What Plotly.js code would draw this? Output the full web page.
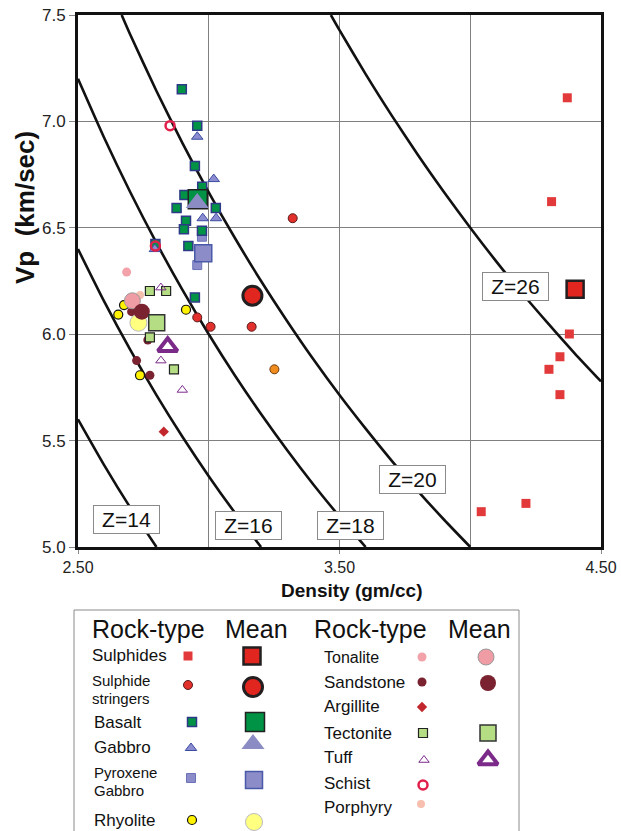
<!DOCTYPE html>
<html>
<head>
<meta charset="utf-8">
<script src="https://cdn.plot.ly/plotly-3.0.1.min.js"></script>
<style>html,body{margin:0;padding:0;background:#fff;}#chart{width:621px;height:831px;}</style>
</head>
<body>
<div id="chart"></div>
<script>
// ---------------- DATA (density gm/cc, Vp km/sec) ----------------
const sulphidesRho = [4.371, 4.311, 4.379, 4.343, 4.301, 4.343, 4.213, 4.042];
const sulphidesVp  = [7.111, 6.623, 6.001, 5.894, 5.835, 5.716, 5.205, 5.166];
const stringersRho = [3.321, 2.956, 3.007, 3.164];
const stringersVp  = [6.545, 6.079, 6.035, 6.035];
const basaltRho = [2.897, 2.956, 2.947, 2.975, 2.907, 2.877, 3.027, 2.913, 2.905, 2.974, 2.796, 2.922, 2.947];
const basaltVp  = [7.151, 6.980, 6.790, 6.693, 6.654, 6.593, 6.593, 6.533, 6.493, 6.486, 6.424, 6.414, 6.173];
const gabbroRho = [2.956, 3.019, 2.977, 3.028, 2.794];
const gabbroVp  = [6.928, 6.729, 6.545, 6.545, 6.400];
const pyroxeneRho = [2.974, 2.956];
const pyroxeneVp  = [6.458, 6.325];
const rhyoliteRho = [2.676, 2.654, 2.913, 2.737];
const rhyoliteVp  = [6.137, 6.092, 6.115, 5.807];
const tonaliteRho = [2.686];
const tonaliteVp  = [6.292];
const sandstoneRho = [2.705, 2.767, 2.724, 2.775];
const sandstoneVp  = [6.106, 5.973, 5.876, 5.807];
const argilliteRho = [2.828];
const argilliteVp  = [5.542];
const tectoniteRho = [2.775, 2.837, 2.775, 2.867];
const tectoniteVp  = [6.203, 6.203, 5.985, 5.835];
const tuffRho = [2.817, 2.817, 2.899];
const tuffVp  = [6.219, 5.876, 5.738];
const schistRho = [2.852, 2.796];
const schistVp  = [6.980, 6.414];
const porphyryRho = [2.737];
const porphyryVp  = [6.184];
const otherRho = [3.251];
const otherVp  = [5.835];

// Means
const meanTypes = ['Sulphides', 'Sulphide stringers', 'Basalt', 'Gabbro', 'Pyroxene Gabbro', 'Rhyolite', 'Tonalite', 'Sandstone', 'Tectonite', 'Tuff'];
const meanRho = [4.401, 3.167, 2.958, 2.956, 2.979, 2.731, 2.708, 2.744, 2.801, 2.843];
const meanVp  = [6.211, 6.181, 6.634, 6.617, 6.380, 6.054, 6.157, 6.106, 6.054, 5.941];

// Iso-impedance curves (Z = density x Vp)
const z14Rho = [2.5, 2.6, 2.7, 2.8];
const z14Vp  = [5.600, 5.385, 5.185, 5.000];
const z16Rho = [2.5, 2.6, 2.7, 2.8, 2.9, 3.0, 3.1, 3.2];
const z16Vp  = [6.400, 6.154, 5.926, 5.714, 5.517, 5.333, 5.161, 5.000];
const z18Rho = [2.5, 2.6, 2.7, 2.8, 2.9, 3.0, 3.1, 3.2, 3.3, 3.4, 3.5, 3.6];
const z18Vp  = [7.200, 6.923, 6.667, 6.429, 6.207, 6.000, 5.806, 5.625, 5.455, 5.294, 5.143, 5.000];
const z20Rho = [2.667, 2.7, 2.8, 2.9, 3.0, 3.1, 3.2, 3.3, 3.4, 3.5, 3.6, 3.7, 3.8, 3.9, 4.0];
const z20Vp  = [7.500, 7.407, 7.143, 6.897, 6.667, 6.452, 6.250, 6.061, 5.882, 5.714, 5.556, 5.405, 5.263, 5.128, 5.000];
const z26Rho = [3.467, 3.5, 3.6, 3.7, 3.8, 3.9, 4.0, 4.1, 4.2, 4.3, 4.4, 4.5];
const z26Vp  = [7.500, 7.429, 7.222, 7.027, 6.842, 6.667, 6.500, 6.341, 6.190, 6.047, 5.909, 5.778];
const zLabels = ['Z=14', 'Z=16', 'Z=18', 'Z=20', 'Z=26'];
const zLabelRho = [2.685, 3.152, 3.542, 3.781, 4.173];
const zLabelVp  = [5.127, 5.099, 5.099, 5.315, 6.224];

const xTickVals = [2.5, 3.5, 4.5];
const xTickText = ['2.50', '3.50', '4.50'];

// ---------------- STYLES ----------------
const FONT = 'Liberation Sans, Arial, Helvetica, sans-serif';
const st = {
  'Sulphides':          {small:{symbol:'square', size:9, color:'#E2393A', line:{width:0}},
                         mean:{symbol:'square', size:17, color:'#E0261F', line:{color:'#231F20', width:2.5}}},
  'Sulphide stringers': {small:{symbol:'circle', size:9, color:'#E2312D', line:{color:'#5A1A1A', width:1}},
                         mean:{symbol:'circle', size:19, color:'#E0261F', line:{color:'#231F20', width:3}}},
  'Basalt':             {small:{symbol:'square', size:9, color:'#009245', line:{color:'#2E3A87', width:1.5}},
                         mean:{symbol:'square', size:19, color:'#009245', line:{color:'#222222', width:1.5}}},
  'Gabbro':             {small:{symbol:'triangle-up', size:10, color:'#8C8CD0', line:{color:'#3A4BA0', width:1}},
                         mean:{symbol:'triangle-up', size:20, color:'#8C8CC4', line:{color:'#8C8CC4', width:0}}},
  'Pyroxene Gabbro':    {small:{symbol:'square', size:9, color:'#8C8CCB', line:{color:'#6A72B8', width:1}},
                         mean:{symbol:'square', size:17, color:'#8C8CC8', line:{color:'#4A5AA8', width:1.5}}},
  'Rhyolite':           {small:{symbol:'circle', size:9, color:'#FFF200', line:{color:'#111111', width:1.2}},
                         mean:{symbol:'circle', size:17, color:'#FFFF80', line:{color:'#BBBBBB', width:1}}},
  'Tonalite':           {small:{symbol:'circle', size:9, color:'#F2A2A8', line:{width:0}},
                         mean:{symbol:'circle', size:16, color:'#F09CA4', line:{color:'#999999', width:1}}},
  'Sandstone':          {small:{symbol:'circle', size:9, color:'#7A2230', line:{width:0}},
                         mean:{symbol:'circle', size:16, color:'#7A2230', line:{width:0}}},
  'Argillite':          {small:{symbol:'diamond', size:8, color:'#C1272D', line:{width:0}}},
  'Tectonite':          {small:{symbol:'square', size:9, color:'#B5DE84', line:{color:'#222222', width:1.2}},
                         mean:{symbol:'square', size:16, color:'#B5DE84', line:{color:'#333333', width:1.5}}},
  'Tuff':               {small:{symbol:'triangle-up-open', size:9, color:'#7B2A8A', line:{color:'#7B2A8A', width:1}},
                         mean:{symbol:'triangle-up-open', size:17, color:'#7B2A8A', line:{color:'#7B2A8A', width:4}}},
  'Schist':             {small:{symbol:'circle-open', size:9, color:'#E0204A', line:{color:'#E0204A', width:2.5}}},
  'Porphyry':           {small:{symbol:'circle', size:8, color:'#F6BFAE', line:{width:0}}},
  'Other':              {small:{symbol:'circle', size:9, color:'#F08C1E', line:{color:'#6A3A10', width:1}}}
};

const series = [
  ['Sulphides', sulphidesRho, sulphidesVp],
  ['Sulphide stringers', stringersRho, stringersVp],
  ['Tonalite', tonaliteRho, tonaliteVp],
  ['Porphyry', porphyryRho, porphyryVp],
  ['Rhyolite', rhyoliteRho, rhyoliteVp],
  ['Sandstone', sandstoneRho, sandstoneVp],
  ['Argillite', argilliteRho, argilliteVp],
  ['Tectonite', tectoniteRho, tectoniteVp],
  ['Tuff', tuffRho, tuffVp],
  ['Pyroxene Gabbro', pyroxeneRho, pyroxeneVp],
  ['Basalt', basaltRho, basaltVp],
  ['Gabbro', gabbroRho, gabbroVp],
  ['Schist', schistRho, schistVp],
  ['Other', otherRho, otherVp]
];

const traces = [];
const curveLine = {color:'#111111', width:2.6, shape:'spline', smoothing:0.6};
[[z14Rho,z14Vp],[z16Rho,z16Vp],[z18Rho,z18Vp],[z20Rho,z20Vp],[z26Rho,z26Vp]].forEach(c => {
  traces.push({type:'scatter', mode:'lines', x:c[0], y:c[1], line:curveLine, hoverinfo:'skip', showlegend:false, cliponaxis:true});
});
series.forEach(s => {
  traces.push({type:'scatter', mode:'markers', name:s[0], x:s[1], y:s[2], marker:st[s[0]].small, showlegend:false, cliponaxis:false});
});
meanTypes.forEach((t, i) => {
  traces.push({type:'scatter', mode:'markers', name:t + ' mean', x:[meanRho[i]], y:[meanVp[i]], marker:st[t].mean, showlegend:false, cliponaxis:false});
});

// ---------------- CUSTOM LEGEND (pixel layout on an overlay axis) ----------------
const legendLayout = [
  {t:'Sulphides', lx:90, lines:[['Sulphides',655]], fs:17, sx:188, sy:656, mx:252, my:656},
  {t:'Sulphide stringers', lx:90, lines:[['Sulphide',680],['stringers',698]], fs:15, sx:188, sy:685, mx:253, my:687},
  {t:'Basalt', lx:92, lines:[['Basalt',722]], fs:17, sx:192, sy:722, mx:255, my:722},
  {t:'Gabbro', lx:92, lines:[['Gabbro',747]], fs:17, sx:191, sy:748, mx:253, my:744},
  {t:'Pyroxene Gabbro', lx:92, lines:[['Pyroxene',772],['Gabbro',790]], fs:15, sx:191, sy:778, mx:254, my:780},
  {t:'Rhyolite', lx:92, lines:[['Rhyolite',820]], fs:17, sx:192, sy:820, mx:254, my:822},
  {t:'Tonalite', lx:322, lines:[['Tonalite',657]], fs:16, sx:422, sy:657, mx:486, my:657},
  {t:'Sandstone', lx:322, lines:[['Sandstone',682]], fs:17, sx:422, sy:682, mx:488, my:683},
  {t:'Argillite', lx:322, lines:[['Argillite',706]], fs:17, sx:422, sy:707},
  {t:'Tectonite', lx:322, lines:[['Tectonite',733]], fs:17, sx:423, sy:733, mx:488, my:733},
  {t:'Tuff', lx:322, lines:[['Tuff',757]], fs:17, sx:424, sy:760, mx:488, my:760},
  {t:'Schist', lx:322, lines:[['Schist',783]], fs:17, sx:423, sy:785},
  {t:'Porphyry', lx:322, lines:[['Porphyry',807]], fs:17, sx:421, sy:804}
];
const annotations = [];
const headers = [['Rock-type',90],['Mean',223],['Rock-type',312],['Mean',446]];
headers.forEach(h => annotations.push({xref:'x2', yref:'y2', x:h[1], y:629, text:h[0], showarrow:false,
  xanchor:'left', yanchor:'middle', font:{family:FONT, size:25, color:'#111'}}));
legendLayout.forEach(e => {
  e.lines.forEach(l => annotations.push({xref:'x2', yref:'y2', x:e.lx, y:l[1], text:l[0], showarrow:false,
    xanchor:'left', yanchor:'middle', font:{family:FONT, size:e.fs, color:'#111'}}));
  traces.push({type:'scatter', mode:'markers', xaxis:'x2', yaxis:'y2', x:[e.sx], y:[e.sy], marker:st[e.t].small, showlegend:false, hoverinfo:'skip', cliponaxis:false});
  if (e.mx !== undefined) {
    traces.push({type:'scatter', mode:'markers', xaxis:'x2', yaxis:'y2', x:[e.mx], y:[e.my], marker:st[e.t].mean, showlegend:false, hoverinfo:'skip', cliponaxis:false});
  }
});

// Z labels
zLabels.forEach((z, i) => annotations.push({xref:'x', yref:'y', x:zLabelRho[i], y:zLabelVp[i], text:z, showarrow:false,
  font:{family:FONT, size:21, color:'#111'}, bgcolor:'#ffffff', bordercolor:'#8a8a8a', borderwidth:1, borderpad:4,
  width:57, height:19, xanchor:'center', yanchor:'middle'}));

// Axis titles
annotations.push({xref:'x2', yref:'y2', x:25, y:208, text:'<b>Vp  (km/sec)</b>', textangle:-90, showarrow:false,
  font:{family:FONT, size:26, color:'#111'}, xanchor:'center', yanchor:'middle'});
annotations.push({xref:'x2', yref:'y2', x:351, y:590, text:'<b>Density (gm/cc)</b>', showarrow:false,
  font:{family:FONT, size:19, color:'#111'}, xanchor:'center', yanchor:'middle'});

const W = 621, H = 831;
const layout = {
  width:W, height:H,
  margin:{l:0, r:0, t:0, b:0, pad:0},
  paper_bgcolor:'#ffffff', plot_bgcolor:'rgba(0,0,0,0)',
  showlegend:false,
  font:{family:FONT, color:'#222'},
  xaxis:{domain:[78/W, 601/W], range:[2.5, 4.5], tickvals:xTickVals, ticktext:xTickText,
    showgrid:true, gridcolor:'#808080', gridwidth:1,
    minor:{dtick:0.5, tick0:2.5, showgrid:true, gridcolor:'#808080', gridwidth:1, ticks:''},
    showline:true, mirror:true, linecolor:'#111', linewidth:3, ticks:'outside', ticklen:4, tickcolor:'#888', tickwidth:1,
    tickfont:{family:FONT, size:16, color:'#222'}, zeroline:false, fixedrange:true, anchor:'y'},
  yaxis:{domain:[(H-547)/H, (H-15)/H], range:[5, 7.5], dtick:0.5, tick0:5, tickformat:'.1f',
    showgrid:true, gridcolor:'#808080', gridwidth:1,
    showline:true, mirror:true, linecolor:'#111', linewidth:3, ticks:'outside', ticklen:6, tickcolor:'#888', tickwidth:1,
    tickfont:{family:FONT, size:17, color:'#222'}, zeroline:false, fixedrange:true, anchor:'x'},
  xaxis2:{domain:[0,1], range:[0, W], visible:false, fixedrange:true, anchor:'y2'},
  yaxis2:{domain:[0,1], range:[H, 0], visible:false, fixedrange:true, anchor:'x2'},
  shapes:[{type:'rect', xref:'x2', yref:'y2', x0:74, x1:519, y0:610, y1:845, line:{color:'#8a8a8a', width:1}, fillcolor:'rgba(0,0,0,0)', layer:'below'}],
  annotations:annotations
};
Plotly.newPlot('chart', traces, layout, {staticPlot:true, displayModeBar:false});
</script>
</body>
</html>
